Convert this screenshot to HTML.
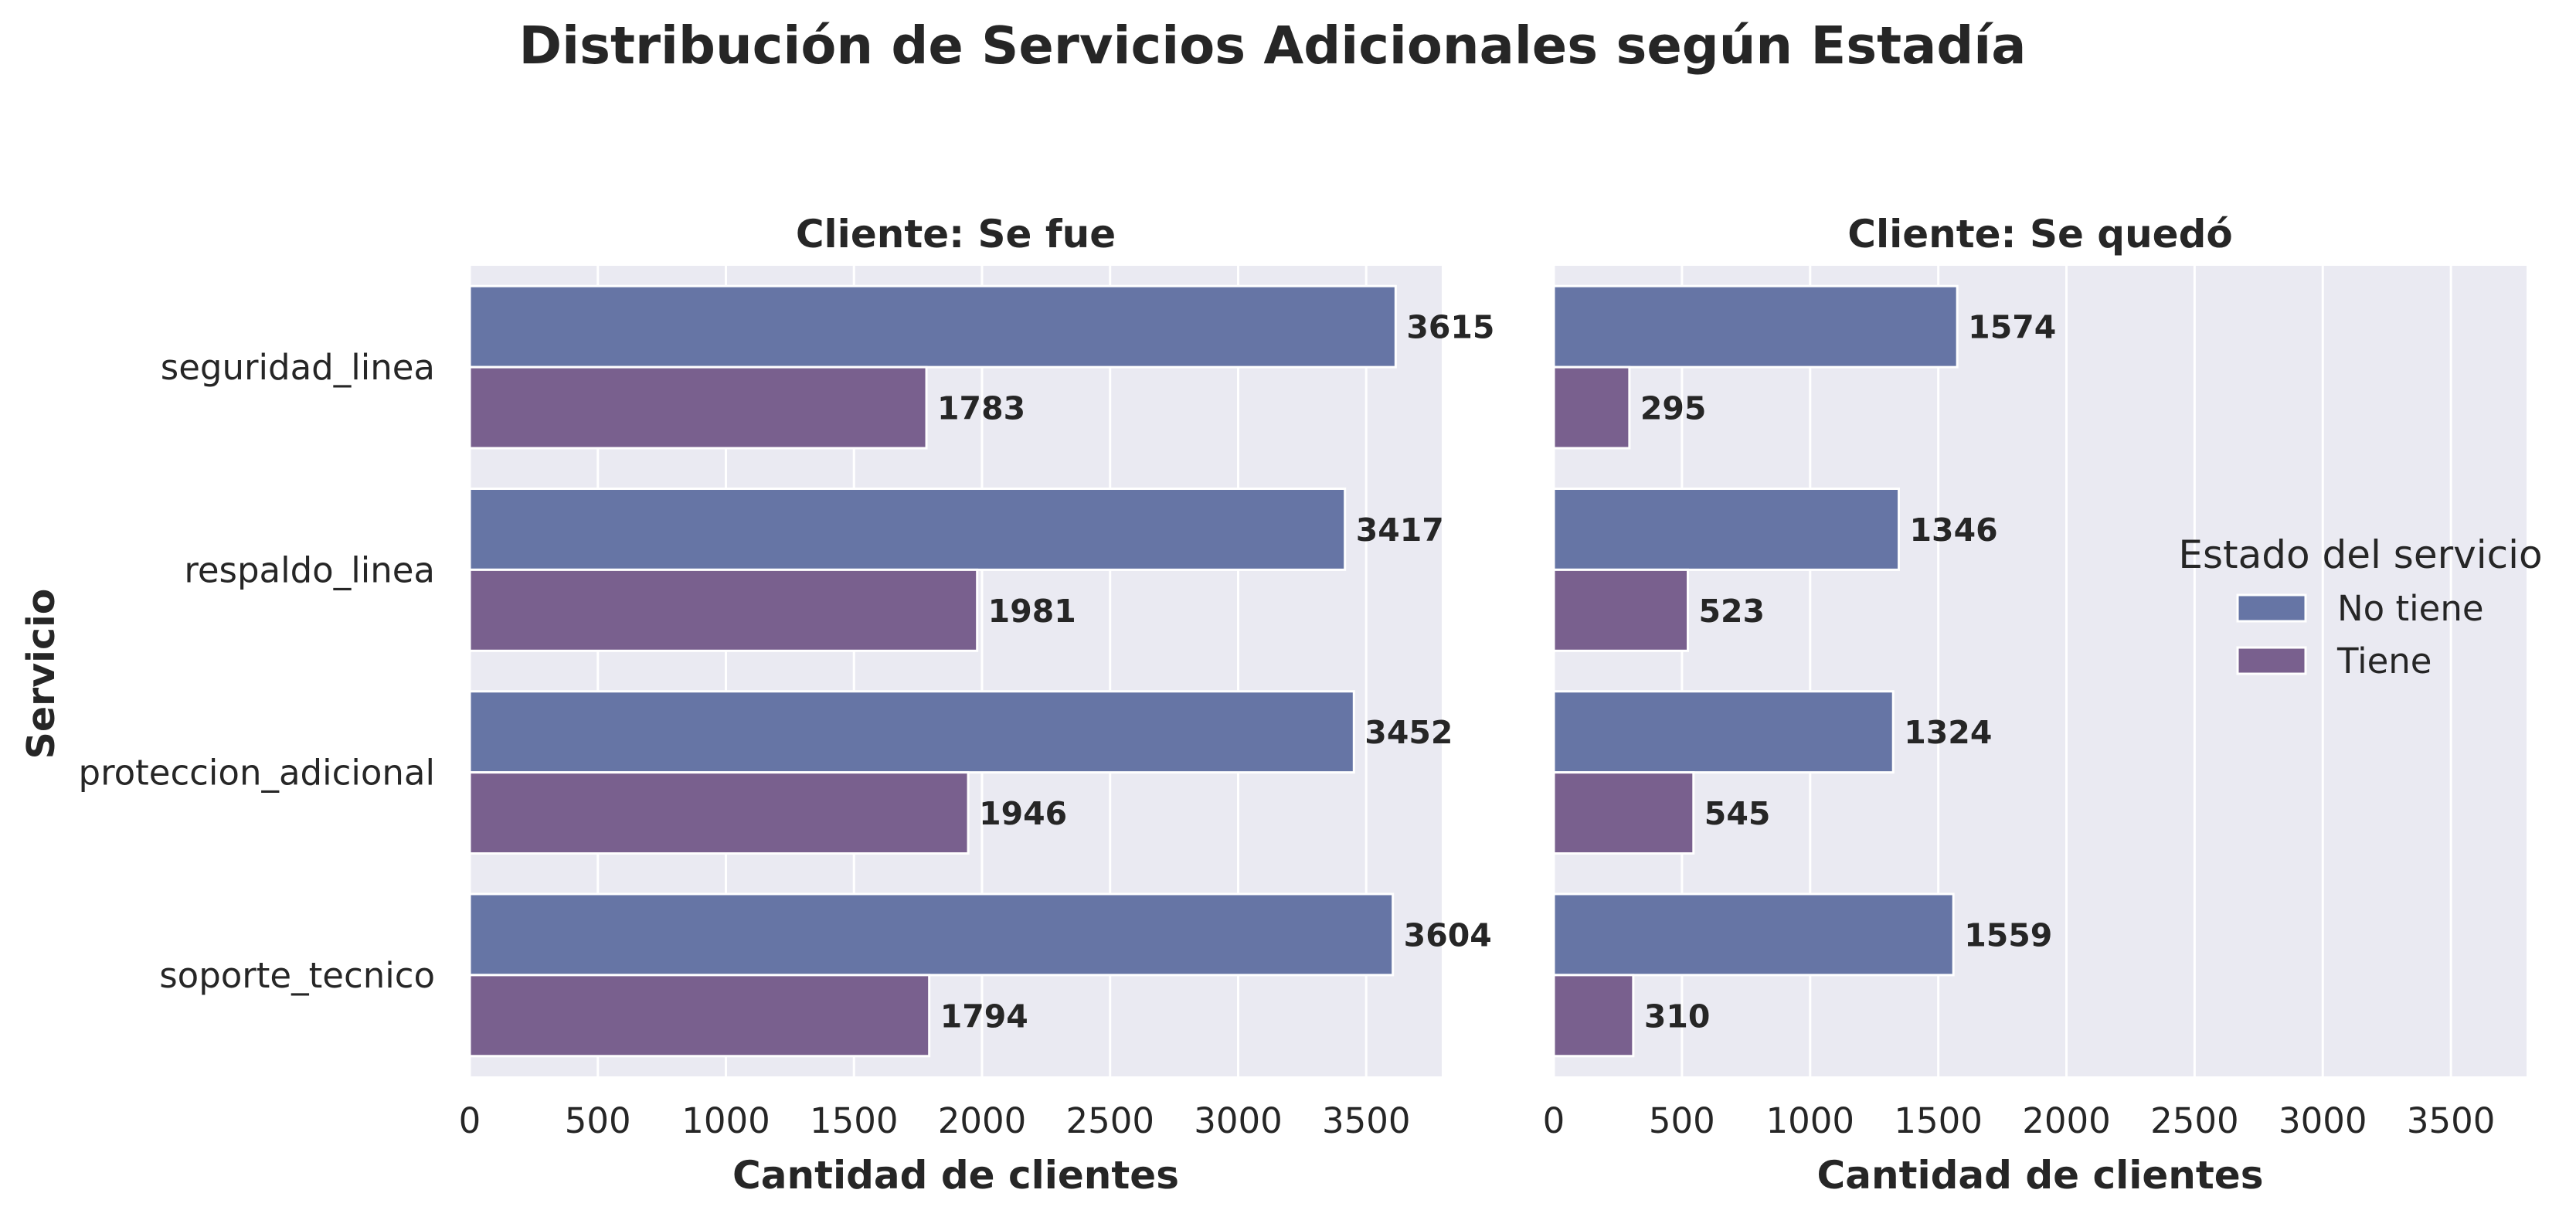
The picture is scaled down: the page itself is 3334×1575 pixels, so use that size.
<!DOCTYPE html>
<html><head><meta charset="utf-8"><style>
html,body{margin:0;padding:0;background:#fff}
svg{display:block;font-family:"DejaVu Sans","Liberation Sans",sans-serif}
</style></head><body>
<svg id="c" width="3334" height="1575" viewBox="0 0 3334 1575" xmlns="http://www.w3.org/2000/svg">
<text x="1647" y="82" text-anchor="middle" font-size="67" font-weight="bold" fill="#262626">Distribución de Servicios Adicionales según Estadía</text>
<text transform="translate(70,872) rotate(-90)" text-anchor="middle" font-size="49" font-weight="bold" fill="#262626">Servicio</text>
<g id="legend">
<text x="3055" y="735" text-anchor="middle" font-size="50" fill="#262626">Estado del servicio</text>
<rect x="2896" y="770" width="88" height="34" fill="#6675a5" stroke="#fff" stroke-width="3"/>
<text x="3025" y="803" font-size="45" fill="#262626">No tiene</text>
<rect x="2896" y="838" width="88" height="34" fill="#79608e" stroke="#fff" stroke-width="3"/>
<text x="3025" y="871" font-size="45" fill="#262626">Tiene</text>
</g>
</svg>
<script>
const categories=["seguridad_linea","respaldo_linea","proteccion_adicional","soporte_tecnico"];
const panelTitles=["Cliente: Se fue","Cliente: Se quedó"];
const fueNoTiene=[3615,3417,3452,3604];
const fueTiene=[1783,1981,1946,1794];
const quedoNoTiene=[1574,1346,1324,1559];
const quedoTiene=[295,523,545,310];
const ticks=[0,500,1000,1500,2000,2500,3000,3500];
const xMax=3795;
const NS="http://www.w3.org/2000/svg";
const svgEl=document.getElementById('c');
function mk(tag,attrs,parent){const e=document.createElementNS(NS,tag);for(const k in attrs)e.setAttribute(k,attrs[k]);(parent||svgEl).appendChild(e);return e;}
const plotTop=344,plotBottom=1393;
const panels=[{x0:608,x1:1866,a:fueNoTiene,b:fueTiene,key:'se-fue'},{x0:2011,x1:3270,a:quedoNoTiene,b:quedoTiene,key:'se-quedo'}];
const band=(plotBottom-plotTop)/categories.length;
function yPos(i){return plotTop+band*(i+0.5);}
panels.forEach((p,pi)=>{
  const g=mk('g',{});
  
  
  const xs=v=>p.x0+(v/xMax)*(p.x1-p.x0);
  const bg=mk('rect',{x:p.x0,y:plotTop,width:p.x1-p.x0,height:plotBottom-plotTop,fill:'#eaeaf2'},g);
  
  
  ticks.forEach(t=>{
    const l=mk('line',{x1:xs(t),x2:xs(t),y1:plotTop,y2:plotBottom,stroke:'#fff','stroke-width':3},g);
    
    
    const tx=mk('text',{x:xs(t),y:plotBottom+73,'text-anchor':'middle','font-size':45,fill:'#262626'},g);
    tx.textContent=t;
    
    
  });
  const tt=mk('text',{x:(p.x0+p.x1)/2,y:320,'text-anchor':'middle','font-size':50,'font-weight':'bold',fill:'#262626'},g);
  tt.textContent=panelTitles[pi];
  
  
  const xl=mk('text',{x:(p.x0+p.x1)/2,y:1538,'text-anchor':'middle','font-size':50,'font-weight':'bold',fill:'#262626'},g);
  xl.textContent='Cantidad de clientes';
  
  
  const bh=band*0.4;
  categories.forEach((c,i)=>{
    const yc=yPos(i);
    [[p.a[i],'#6675a5',yc-bh,'no-tiene'],[p.b[i],'#79608e',yc,'tiene']].forEach(([v,col,y,s])=>{
      const r=mk('rect',{x:p.x0,y:y,width:xs(v)-p.x0,height:bh,fill:col,stroke:'#fff','stroke-width':3},g);
      
      
      const lb=mk('text',{x:xs(v)+14,y:y+bh/2+15,'font-size':41,'font-weight':'bold',fill:'#262626'},g);
      lb.textContent=v;
      
      
    });
    if(pi===0){
      const yt=mk('text',{x:563,y:yc+16,'text-anchor':'end','font-size':45,fill:'#262626'},g);
      yt.textContent=c;
      
      
    }
  });
});
svgEl.appendChild(document.getElementById('legend'));
</script>
</body></html>
